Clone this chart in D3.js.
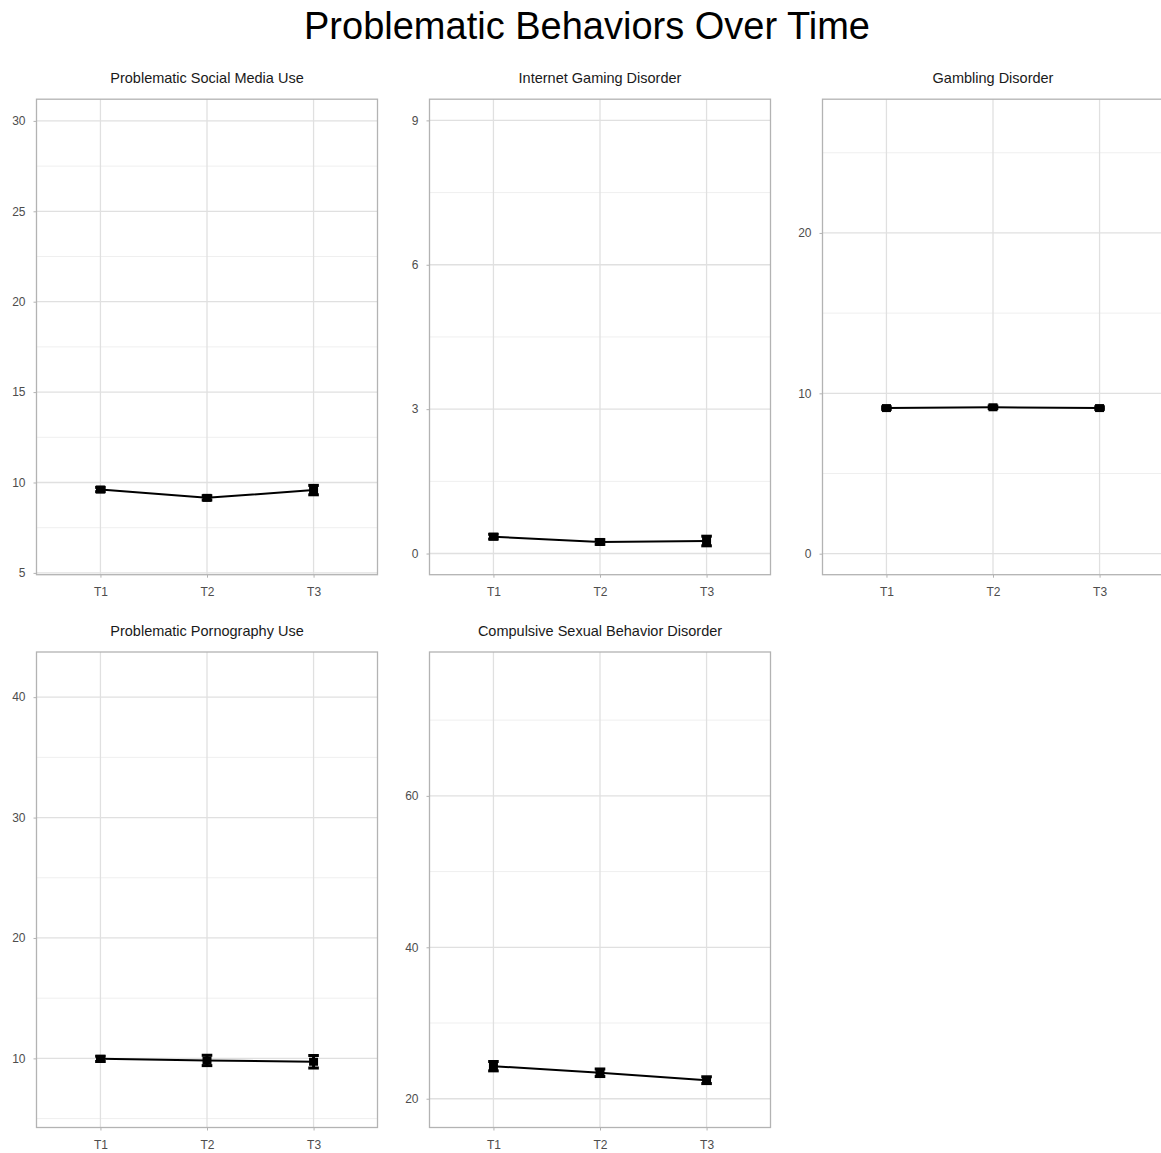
<!DOCTYPE html>
<html>
<head>
<meta charset="utf-8">
<script src="https://cdn.jsdelivr.net/npm/d3@7"></script>
<style>
  body { margin: 0; background: #fff; }
  text { font-family: "Liberation Sans", Arial, sans-serif; }
</style>
</head>
<body>
<svg id="chart" width="1161" height="1153"></svg>
<script>
'use strict'

const times = ['T1', 'T2', 'T3'];

const titles = [
    'Problematic Social Media Use',
    'Internet Gaming Disorder',
    'Gambling Disorder',
    'Problematic Pornography Use',
    'Compulsive Sexual Behavior Disorder'
];

// mean score at each wave
const means = [
    [9.61, 9.15, 9.58],
    [0.35, 0.24, 0.26],
    [9.08, 9.13, 9.08],
    [9.96, 9.83, 9.72],
    [24.30, 23.43, 22.45]
];

// half length of the error bars
const errors = [
    [0.12, 0.12, 0.26],
    [0.05, 0.05, 0.10],
    [0.08, 0.08, 0.08],
    [0.22, 0.43, 0.52],
    [0.62, 0.50, 0.45]
];

const yDomains = [
    [4.9, 31.2],
    [-0.44, 9.44],
    [-1.31, 28.34],
    [4.26, 43.75],
    [16.2, 79.0]
];

const majorTicks = [
    [5, 10, 15, 20, 25, 30],
    [0, 3, 6, 9],
    [0, 10, 20],
    [10, 20, 30, 40],
    [20, 40, 60]
];

const minorTicks = [
    [7.5, 12.5, 17.5, 22.5, 27.5],
    [1.5, 4.5, 7.5],
    [5, 15, 25],
    [5, 15, 25, 35],
    [30, 50, 70]
];

const panelWidth = 341;
const panelHeight = 475.5;
const colLeft = [36.5, 429.5, 822.5];
const rowTop = [99.2, 652];

const svg = d3.select('#chart');

svg.append('rect')
    .attr('width', 1161)
    .attr('height', 1153)
    .attr('fill', '#fff');

svg.append('text')
    .attr('x', 587)
    .attr('y', 39)
    .attr('text-anchor', 'middle')
    .style('font-size', '38px')
    .style('fill', '#000')
    .text('Problematic Behaviors Over Time');

function drawPanel(i) {

    let left = colLeft[i % 3];
    let top = rowTop[Math.floor(i / 3)];

    let x = d3.scalePoint()
        .domain(times)
        .range([0, panelWidth])
        .padding(0.6);

    let y = d3.scaleLinear()
        .domain(yDomains[i])
        .range([panelHeight, 0]);

    let g = svg.append('g')
        .attr('transform', 'translate(' + left + ',' + top + ')');

    g.append('text')
        .attr('x', panelWidth / 2)
        .attr('y', -16.5)
        .attr('text-anchor', 'middle')
        .style('font-size', '14.5px')
        .style('fill', '#1a1a1a')
        .text(titles[i]);

    // minor grid
    g.selectAll('.minor')
        .data(minorTicks[i])
        .enter().append('line')
        .attr('x1', 0)
        .attr('x2', panelWidth)
        .attr('y1', d => y(d))
        .attr('y2', d => y(d))
        .attr('stroke', '#efefef')
        .attr('stroke-width', 1);

    // major grid
    g.selectAll('.major')
        .data(majorTicks[i])
        .enter().append('line')
        .attr('x1', 0)
        .attr('x2', panelWidth)
        .attr('y1', d => y(d))
        .attr('y2', d => y(d))
        .attr('stroke', '#e0e0e0')
        .attr('stroke-width', 1.3);

    g.selectAll('.vgrid')
        .data(times)
        .enter().append('line')
        .attr('x1', d => x(d))
        .attr('x2', d => x(d))
        .attr('y1', 0)
        .attr('y2', panelHeight)
        .attr('stroke', '#e0e0e0')
        .attr('stroke-width', 1.3);

    // axes
    let xAxis = d3.axisBottom(x).tickSize(3).tickPadding(10);
    let yAxis = d3.axisLeft(y).tickValues(majorTicks[i]).tickSize(3).tickPadding(8);

    let gx = g.append('g')
        .attr('transform', 'translate(0,' + panelHeight + ')')
        .call(xAxis);

    let gy = g.append('g').call(yAxis);

    for (let ax of [gx, gy]) {
        ax.select('.domain').remove();
        ax.selectAll('line').attr('stroke', '#b3b3b3');
        ax.selectAll('text')
            .style('font-size', '12px')
            .style('fill', '#4d4d4d');
    }

    g.append('rect')
        .attr('width', panelWidth)
        .attr('height', panelHeight)
        .attr('fill', 'none')
        .attr('stroke', '#b3b3b3')
        .attr('stroke-width', 1.3);

    let rows = times.map((t, j) => ({ t: t, m: means[i][j], e: errors[i][j] }));

    let line = d3.line()
        .x(d => x(d.t))
        .y(d => y(d.m));

    g.append('path')
        .datum(rows)
        .attr('d', line)
        .attr('fill', 'none')
        .attr('stroke', '#000')
        .attr('stroke-width', 2);

    let bars = g.selectAll('.err')
        .data(rows)
        .enter().append('g');

    bars.append('line')
        .attr('x1', d => x(d.t))
        .attr('x2', d => x(d.t))
        .attr('y1', d => y(d.m - d.e))
        .attr('y2', d => y(d.m + d.e))
        .attr('stroke', '#000')
        .attr('stroke-width', 3);

    for (let sign of [-1, 1]) {
        bars.append('line')
            .attr('x1', d => x(d.t) - 5.3)
            .attr('x2', d => x(d.t) + 5.3)
            .attr('y1', d => y(d.m + sign * d.e))
            .attr('y2', d => y(d.m + sign * d.e))
            .attr('stroke', '#000')
            .attr('stroke-width', 3);
    }

    g.selectAll('.pt')
        .data(rows)
        .enter().append('rect')
        .attr('x', d => x(d.t) - 4.5)
        .attr('y', d => y(d.m) - 4)
        .attr('width', 9)
        .attr('height', 8)
        .attr('fill', '#000');

}

titles.forEach((t, i) => drawPanel(i));
</script>
</body>
</html>
